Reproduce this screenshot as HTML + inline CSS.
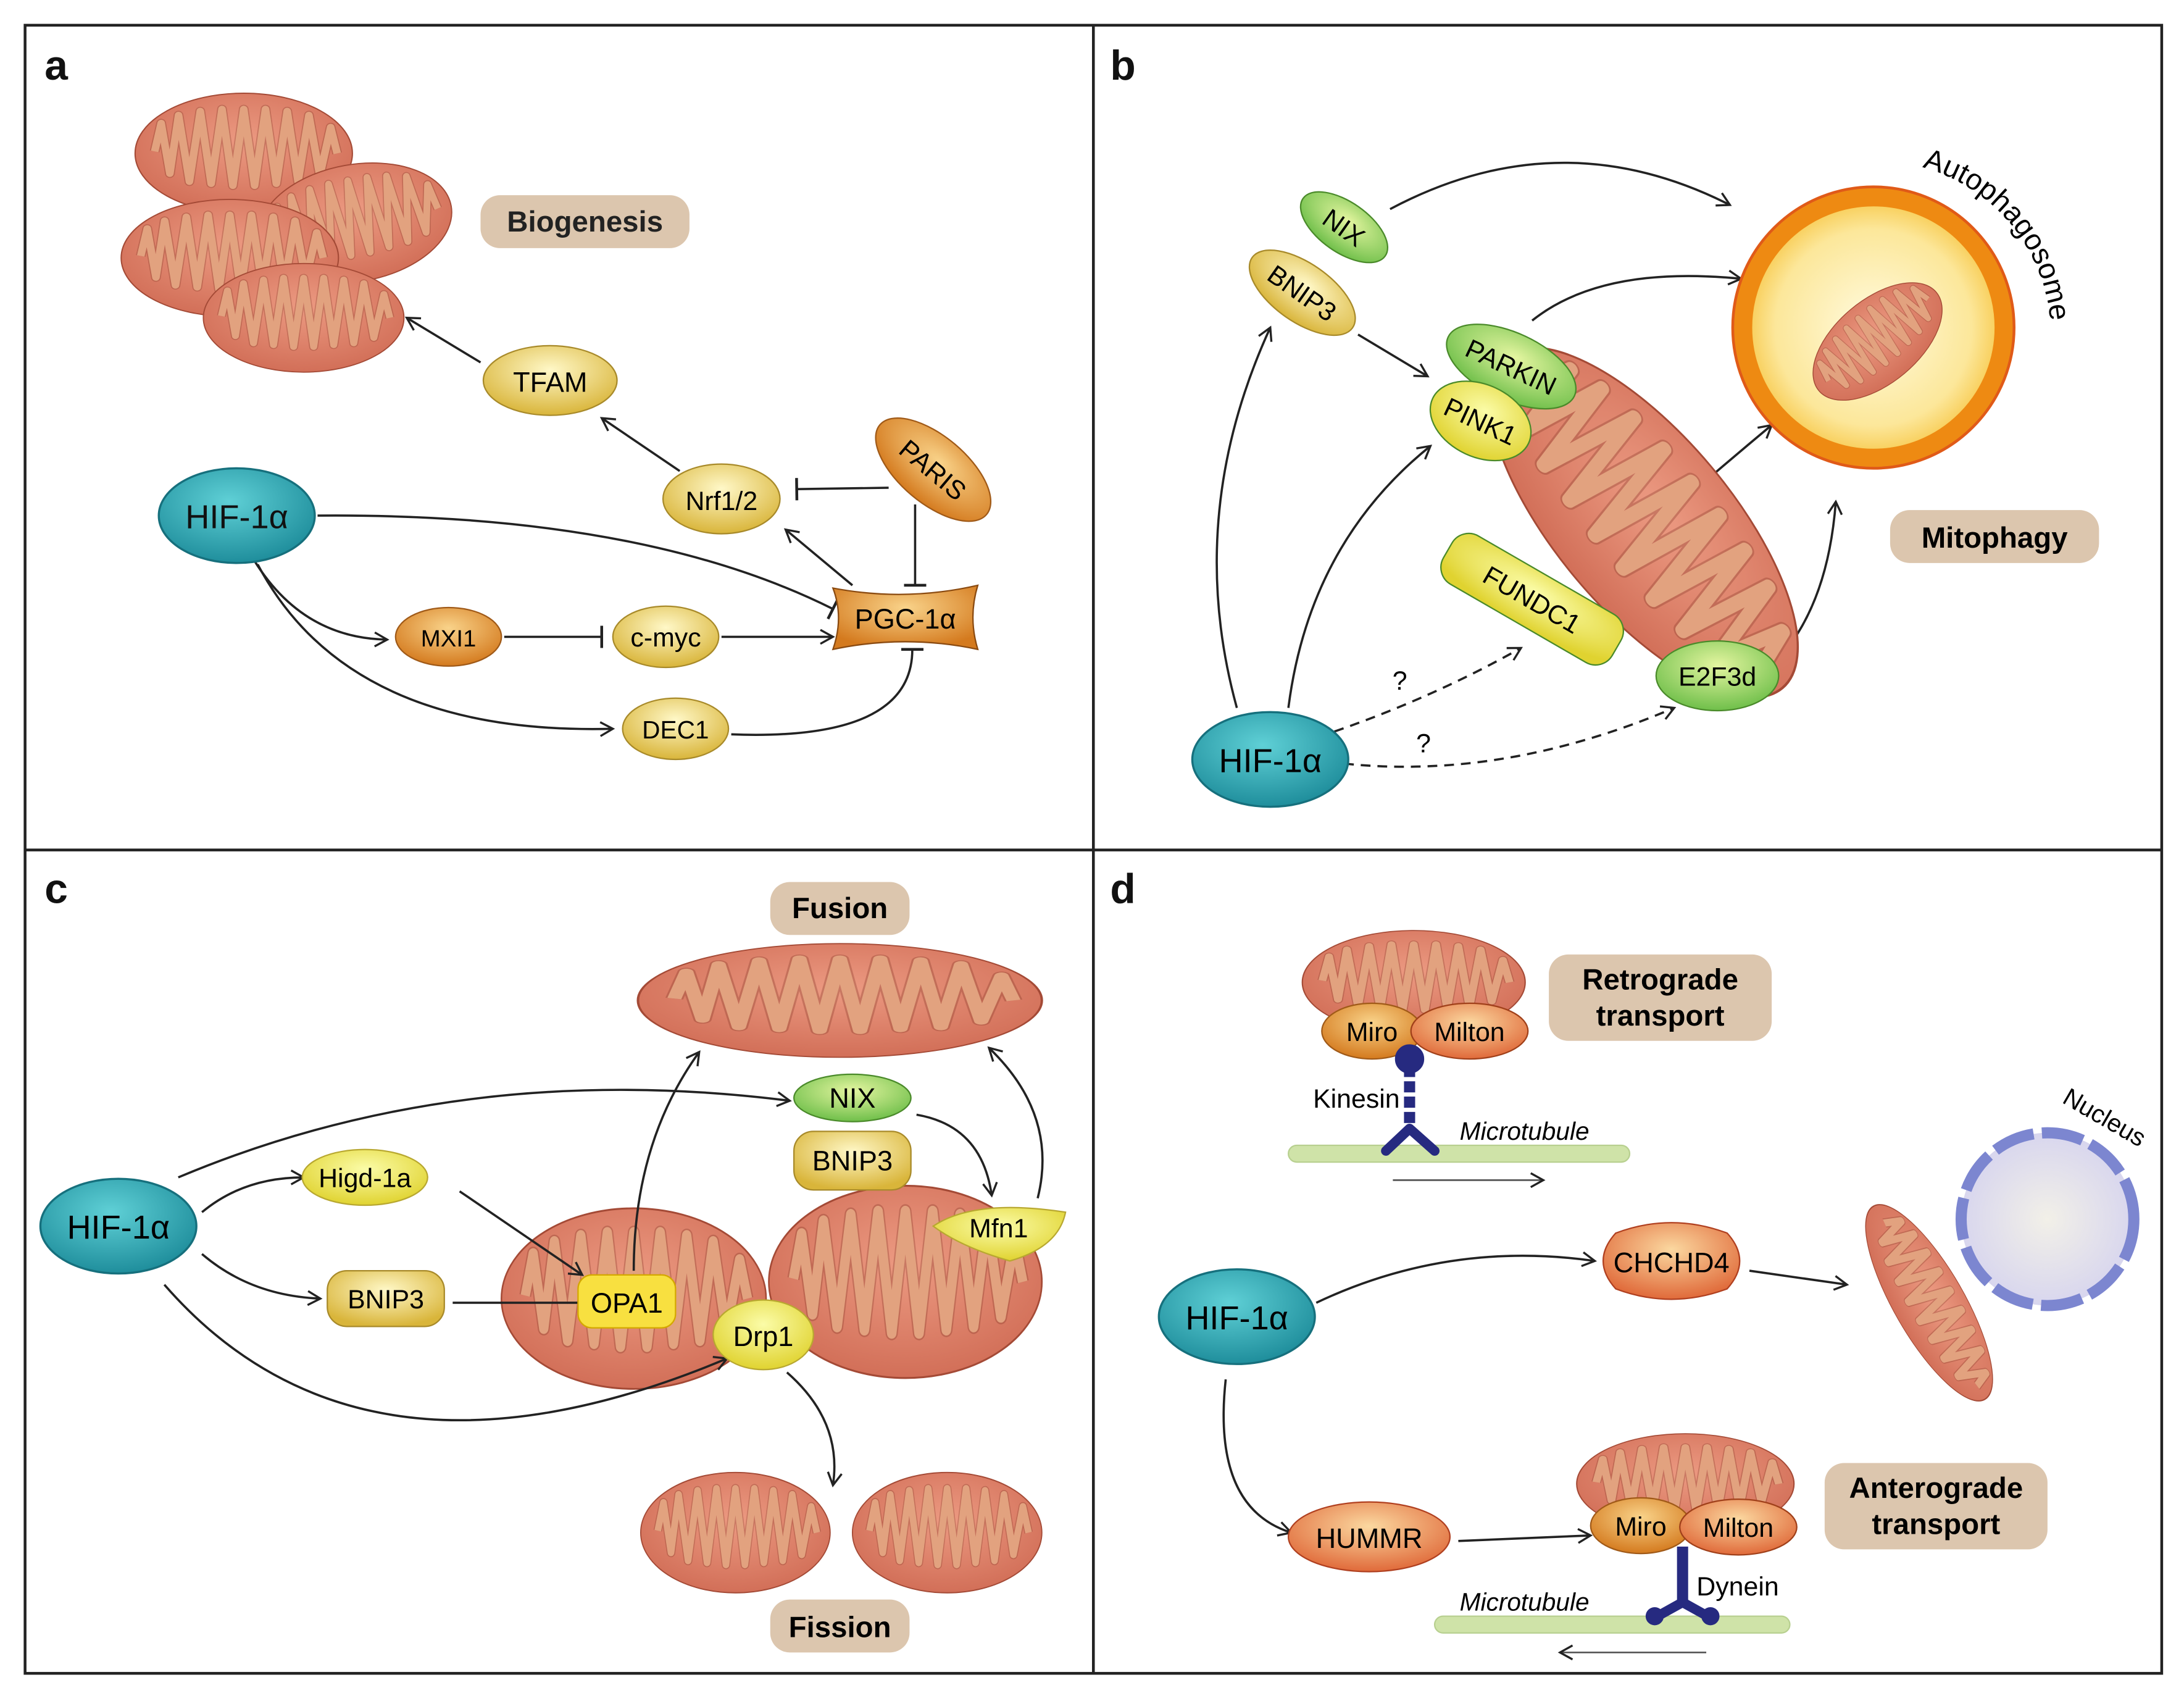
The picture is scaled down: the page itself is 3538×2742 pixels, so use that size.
<!DOCTYPE html>
<html><head><meta charset="utf-8"><style>
html,body{margin:0;padding:0;background:#fff;}
svg{display:block;}
text{font-family:"Liberation Sans",sans-serif;}
</style></head><body>
<svg width="3538" height="2742" viewBox="0 0 1568 1215" xmlns="http://www.w3.org/2000/svg">
<defs>
<marker id="ar" viewBox="0 0 12 12" refX="10" refY="6" markerWidth="12" markerHeight="12" markerUnits="userSpaceOnUse" orient="auto"><path d="M1,1 L10,6 L1,11" fill="none" stroke="#222" stroke-width="1.5"/></marker>
<marker id="inh" viewBox="0 0 4 16" refX="2" refY="8" markerWidth="4" markerHeight="16" markerUnits="userSpaceOnUse" orient="auto"><path d="M2,0 L2,16" stroke="#222" stroke-width="2"/></marker>
<radialGradient id="mg" cx="50%" cy="40%" r="60%"><stop offset="0" stop-color="#ec9a82"/><stop offset="1" stop-color="#d26f58"/></radialGradient>
<radialGradient id="hif" cx="45%" cy="35%" r="65%"><stop offset="0" stop-color="#5fd0d6"/><stop offset="1" stop-color="#1f8e9c"/></radialGradient>
<radialGradient id="yel" cx="50%" cy="35%" r="65%"><stop offset="0" stop-color="#fff8c8"/><stop offset="1" stop-color="#d9b53a"/></radialGradient>
<radialGradient id="org" cx="50%" cy="35%" r="65%"><stop offset="0" stop-color="#f9d38a"/><stop offset="1" stop-color="#d47a1e"/></radialGradient>
<radialGradient id="grn" cx="50%" cy="35%" r="65%"><stop offset="0" stop-color="#e4f5a0"/><stop offset="1" stop-color="#6fbf4a"/></radialGradient>
<radialGradient id="lem" cx="50%" cy="35%" r="65%"><stop offset="0" stop-color="#fbfca8"/><stop offset="1" stop-color="#e0d330"/></radialGradient>
<radialGradient id="red" cx="50%" cy="35%" r="65%"><stop offset="0" stop-color="#fbd8a0"/><stop offset="1" stop-color="#e06a3a"/></radialGradient>
<radialGradient id="aph" cx="50%" cy="50%" r="50%"><stop offset="0" stop-color="#fffbe0"/><stop offset="0.75" stop-color="#fce79a"/><stop offset="1" stop-color="#f7c84a"/></radialGradient>
<radialGradient id="nuc" cx="50%" cy="50%" r="50%"><stop offset="0" stop-color="#f2f0e8"/><stop offset="1" stop-color="#d8d6ee"/></radialGradient>
<g id="mito">
<ellipse rx="100" ry="60" fill="url(#mg)" stroke="#a44a36" stroke-width="1.2"/>
<path d="M-82,-2 L-76,-30 L-68,20 L-60,-38 L-50,28 L-40,-42 L-30,30 L-20,-44 L-10,32 L0,-44 L10,32 L20,-44 L30,30 L40,-42 L50,28 L60,-38 L70,22 L80,-26 L86,0" fill="none" stroke="#8a3b2b" stroke-width="9" stroke-linejoin="round" opacity="0.35"/>
<path d="M-82,-2 L-76,-30 L-68,20 L-60,-38 L-50,28 L-40,-42 L-30,30 L-20,-44 L-10,32 L0,-44 L10,32 L20,-44 L30,30 L40,-42 L50,28 L60,-38 L70,22 L80,-26 L86,0" fill="none" stroke="#e2a27f" stroke-width="7" stroke-linejoin="round"/>
</g>
</defs>
<rect x="0" y="0" width="1568" height="1215" fill="#fff"/>
<rect x="18" y="18" width="1534" height="1183" fill="none" stroke="#222" stroke-width="2"/>
<line x1="785" y1="18" x2="785" y2="1201" stroke="#222" stroke-width="2"/>
<line x1="18" y1="610" x2="1552" y2="610" stroke="#222" stroke-width="2"/>

<g fill="none" stroke="#222" stroke-width="1.6">
<path d="M345,260 L292,228" marker-end="url(#ar)"/>
<path d="M488,338 L432,300" marker-end="url(#ar)"/>
<path d="M638,350 L572,351" marker-end="url(#inh)"/>
<path d="M657,362 L657,420" marker-end="url(#inh)"/>
<path d="M612,420 L564,380" marker-end="url(#ar)"/>
<path d="M228,370 Q460,368 598,437" marker-end="url(#inh)"/>
<path d="M180,398 Q215,458 278,459" marker-end="url(#ar)"/>
<path d="M185,405 Q250,528 440,523" marker-end="url(#ar)"/>
<path d="M362,457 L432,457" marker-end="url(#inh)"/>
<path d="M518,457 L598,457" marker-end="url(#ar)"/>
<path d="M525,527 Q655,532 655,466" marker-end="url(#inh)"/>
<path d="M998,150 Q1120,85 1242,147" marker-end="url(#ar)"/>
<path d="M1100,230 Q1150,190 1250,200" marker-end="url(#ar)"/>
<path d="M975,240 L1025,270" marker-end="url(#ar)"/>
<path d="M1140,420 Q1200,365 1272,305" marker-end="url(#ar)"/>
<path d="M1270,480 Q1312,440 1318,360" marker-end="url(#ar)"/>
<path d="M888,508 Q850,370 912,235" marker-end="url(#ar)"/>
<path d="M925,508 Q940,390 1027,320" marker-end="url(#ar)"/>
<path d="M958,525 Q1030,500 1092,465" marker-end="url(#ar)" stroke-dasharray="7,5"/>
<path d="M965,548 Q1080,560 1202,508" marker-end="url(#ar)" stroke-dasharray="7,5"/>
<path d="M128,845 Q330,760 567,790" marker-end="url(#ar)"/>
<path d="M145,870 Q175,845 218,845" marker-end="url(#ar)"/>
<path d="M145,900 Q180,930 230,932" marker-end="url(#ar)"/>
<path d="M658,800 Q705,808 712,858" marker-end="url(#ar)"/>
<path d="M945,935 Q1040,890 1145,905" marker-end="url(#ar)"/>
<path d="M1256,912 L1326,922" marker-end="url(#ar)"/>
<path d="M880,990 Q870,1082 927,1100" marker-end="url(#ar)"/>
<path d="M1047,1106 L1142,1102" marker-end="url(#ar)"/>
</g>

<g font-size="30" font-weight="bold" fill="#111">
<text x="32" y="57">a</text><text x="797" y="57">b</text><text x="32" y="648">c</text><text x="797" y="648">d</text>
</g>

<use href="#mito" transform="translate(175,110) scale(0.78,0.72)"/>
<use href="#mito" transform="translate(255,160) scale(0.7,0.7) rotate(-10)"/>
<use href="#mito" transform="translate(165,185) scale(0.78,0.7)"/>
<use href="#mito" transform="translate(218,228) scale(0.72,0.65)"/>
<rect x="345" y="140" width="150" height="38" rx="14" fill="#dcc6ae"/>
<text x="420" y="166" font-size="21" font-weight="bold" text-anchor="middle" fill="#222">Biogenesis</text>
<ellipse cx="395" cy="273" rx="48" ry="25" fill="url(#yel)" stroke="#a88a2a"/>
<text x="395" y="281" font-size="20" text-anchor="middle">TFAM</text>
<ellipse cx="518" cy="358" rx="42" ry="25" fill="url(#yel)" stroke="#a88a2a"/>
<text x="518" y="366" font-size="19" text-anchor="middle">Nrf1/2</text>
<ellipse cx="670" cy="337" rx="50" ry="24" transform="rotate(40 670 337)" fill="url(#org)" stroke="#a05a18"/>
<text x="670" y="344" font-size="19" text-anchor="middle" transform="rotate(40 670 337)">PARIS</text>
<path d="M598,422 Q650,432 702,420 Q695,443 702,466 Q650,455 598,466 Q606,443 598,422Z" fill="url(#org)" stroke="#8a4a10"/>
<text x="650" y="451" font-size="20" text-anchor="middle">PGC-1α</text>
<ellipse cx="322" cy="457" rx="38" ry="21" fill="url(#org)" stroke="#a05a18"/>
<text x="322" y="464" font-size="17" text-anchor="middle">MXI1</text>
<ellipse cx="478" cy="457" rx="38" ry="22" fill="url(#yel)" stroke="#a88a2a"/>
<text x="478" y="464" font-size="19" text-anchor="middle">c-myc</text>
<ellipse cx="485" cy="523" rx="38" ry="22" fill="url(#yel)" stroke="#a88a2a"/>
<text x="485" y="530" font-size="18" text-anchor="middle">DEC1</text>
<ellipse cx="170" cy="370" rx="56" ry="34" fill="url(#hif)" stroke="#16707d" stroke-width="1.5"/>
<text x="170" y="379" font-size="24" text-anchor="middle" fill="#111">HIF-1α</text>

<circle cx="1345" cy="235" r="94" fill="url(#aph)" stroke="#ee8a12" stroke-width="14"/>
<circle cx="1345" cy="235" r="101" fill="none" stroke="#e05a18" stroke-width="2"/>
<use href="#mito" transform="translate(1348,245) rotate(-40) scale(0.55,0.5)"/>
<path id="arc" d="M1380,120 A125,125 0 0 1 1470,265" fill="none"/>
<text font-size="21"><textPath href="#arc">Autophagosome</textPath></text>
<use href="#mito" transform="translate(1180,375) rotate(50) scale(1.55,1.05)"/>
<ellipse cx="965" cy="163" rx="36" ry="18" transform="rotate(35 965 163)" fill="url(#grn)" stroke="#4a8a2a"/>
<text x="965" y="170" font-size="19" text-anchor="middle" transform="rotate(35 965 163)">NIX</text>
<ellipse cx="935" cy="210" rx="44" ry="21" transform="rotate(35 935 210)" fill="url(#yel)" stroke="#a88a2a"/>
<text x="935" y="217" font-size="19" text-anchor="middle" transform="rotate(35 935 210)">BNIP3</text>
<ellipse cx="1085" cy="263" rx="50" ry="24" transform="rotate(25 1085 263)" fill="url(#grn)" stroke="#4a8a2a"/>
<text x="1085" y="270" font-size="19" text-anchor="middle" transform="rotate(25 1085 263)">PARKIN</text>
<ellipse cx="1063" cy="302" rx="38" ry="26" transform="rotate(25 1063 302)" fill="url(#lem)" stroke="#4a8a2a"/>
<text x="1063" y="309" font-size="19" text-anchor="middle" transform="rotate(25 1063 302)">PINK1</text>
<rect x="1030" y="410" width="140" height="40" rx="14" transform="rotate(30 1100 430)" fill="url(#lem)" stroke="#4a8a2a"/>
<text x="1100" y="437" font-size="19" text-anchor="middle" transform="rotate(30 1100 430)">FUNDC1</text>
<ellipse cx="1233" cy="485" rx="44" ry="25" fill="url(#grn)" stroke="#4a8a2a"/>
<text x="1233" y="492" font-size="19" text-anchor="middle">E2F3d</text>
<rect x="1357" y="366" width="150" height="38" rx="14" fill="#dcc6ae"/>
<text x="1432" y="393" font-size="21" font-weight="bold" text-anchor="middle">Mitophagy</text>
<text x="1005" y="495" font-size="19" text-anchor="middle">?</text>
<text x="1022" y="540" font-size="19" text-anchor="middle">?</text>
<ellipse cx="912" cy="545" rx="56" ry="34" fill="url(#hif)" stroke="#16707d" stroke-width="1.5"/>
<text x="912" y="554" font-size="24" text-anchor="middle">HIF-1α</text>

<rect x="553" y="633" width="100" height="38" rx="14" fill="#dcc6ae"/>
<text x="603" y="659" font-size="21" font-weight="bold" text-anchor="middle">Fusion</text>
<use href="#mito" transform="translate(603,718) scale(1.45,0.68)"/>
<use href="#mito" transform="translate(455,932) scale(0.95,1.08)"/>
<use href="#mito" transform="translate(650,920) scale(0.98,1.15)"/>
<g fill="none" stroke="#222" stroke-width="1.6">
<path d="M118,922 Q260,1085 522,975" marker-end="url(#ar)"/>
<path d="M330,855 L418,915" marker-end="url(#ar)"/>
<path d="M325,935 L418,935" marker-end="url(#inh)"/>
<path d="M455,912 Q455,820 502,755" marker-end="url(#ar)"/>
<path d="M745,860 Q760,800 710,752" marker-end="url(#ar)"/>
<path d="M565,985 Q605,1020 598,1066" marker-end="url(#ar)"/>
</g>
<ellipse cx="612" cy="788" rx="42" ry="17" fill="url(#grn)" stroke="#4a8a2a"/>
<text x="612" y="795" font-size="20" text-anchor="middle">NIX</text>
<rect x="570" y="812" width="84" height="42" rx="14" fill="url(#yel)" stroke="#a88a2a"/>
<text x="612" y="840" font-size="20" text-anchor="middle">BNIP3</text>
<path d="M670,880 Q700,860 765,870 Q760,895 725,905 Q690,895 670,880Z" fill="url(#lem)" stroke="#b8a830"/>
<text x="717" y="888" font-size="19" text-anchor="middle">Mfn1</text>
<rect x="415" y="915" width="70" height="38" rx="10" fill="#f8e040" stroke="#d4a800"/>
<text x="450" y="942" font-size="20" text-anchor="middle">OPA1</text>
<ellipse cx="548" cy="958" rx="36" ry="25" fill="url(#lem)" stroke="#b8a830"/>
<text x="548" y="966" font-size="20" text-anchor="middle">Drp1</text>
<ellipse cx="262" cy="845" rx="45" ry="20" fill="url(#lem)" stroke="#b8a830"/>
<text x="262" y="852" font-size="19" text-anchor="middle">Higd-1a</text>
<rect x="235" y="912" width="84" height="40" rx="14" fill="url(#yel)" stroke="#a88a2a"/>
<text x="277" y="939" font-size="19" text-anchor="middle">BNIP3</text>
<use href="#mito" transform="translate(528,1100) scale(0.68,0.72)"/>
<use href="#mito" transform="translate(680,1100) scale(0.68,0.72)"/>
<rect x="553" y="1148" width="100" height="38" rx="14" fill="#dcc6ae"/>
<text x="603" y="1175" font-size="21" font-weight="bold" text-anchor="middle">Fission</text>
<ellipse cx="85" cy="880" rx="56" ry="34" fill="url(#hif)" stroke="#16707d" stroke-width="1.5"/>
<text x="85" y="889" font-size="24" text-anchor="middle">HIF-1α</text>

<use href="#mito" transform="translate(1015,705) scale(0.8,0.62)"/>
<ellipse cx="985" cy="740" rx="36" ry="20" fill="url(#org)" stroke="#a05a18"/>
<text x="985" y="747" font-size="19" text-anchor="middle">Miro</text>
<ellipse cx="1055" cy="740" rx="42" ry="20" fill="url(#red)" stroke="#a0401a"/>
<text x="1055" y="747" font-size="19" text-anchor="middle">Milton</text>
<rect x="925" y="822" width="245" height="12" rx="6" fill="#cfe3a8" stroke="#b8d090"/>
<g fill="#262a80" stroke="#262a80">
<circle cx="1012" cy="760" r="10"/>
<path d="M1012,765 L1012,812" stroke-width="8" fill="none" stroke-dasharray="8,3"/>
<path d="M1012,810 L995,826 M1012,810 L1030,826" stroke-width="7" fill="none" stroke-linecap="round"/>
</g>
<text x="1005" y="795" font-size="19" text-anchor="end">Kinesin</text>
<text x="1048" y="818" font-size="18" font-style="italic">Microtubule</text>
<path d="M1000,847 L1108,847" stroke="#555" stroke-width="1.2" marker-end="url(#ar)"/>
<rect x="1112" y="685" width="160" height="62" rx="14" fill="#dcc6ae"/>
<text x="1192" y="710" font-size="21" font-weight="bold" text-anchor="middle">Retrograde</text>
<text x="1192" y="736" font-size="21" font-weight="bold" text-anchor="middle">transport</text>
<path d="M1160,885 Q1200,870 1240,885 Q1258,905 1240,925 Q1200,940 1160,925 Q1142,905 1160,885Z" fill="url(#red)" stroke="#b04020"/>
<text x="1200" y="913" font-size="20" text-anchor="middle">CHCHD4</text>
<circle cx="1470" cy="875" r="62" fill="url(#nuc)" stroke="#7c86d0" stroke-width="8" stroke-dasharray="30,6"/>
<text x="1468" y="805" font-size="18" transform="rotate(30 1500 820)">Nucleus</text>
<use href="#mito" transform="translate(1385,935) rotate(60) scale(0.8,0.42)"/>
<ellipse cx="983" cy="1103" rx="58" ry="25" fill="url(#red)" stroke="#b04020"/>
<text x="983" y="1111" font-size="20" text-anchor="middle">HUMMR</text>
<use href="#mito" transform="translate(1210,1065) scale(0.78,0.6)"/>
<ellipse cx="1178" cy="1095" rx="36" ry="20" fill="url(#org)" stroke="#a05a18"/>
<text x="1178" y="1102" font-size="19" text-anchor="middle">Miro</text>
<ellipse cx="1248" cy="1096" rx="42" ry="20" fill="url(#red)" stroke="#a0401a"/>
<text x="1248" y="1103" font-size="19" text-anchor="middle">Milton</text>
<rect x="1030" y="1160" width="255" height="12" rx="6" fill="#cfe3a8" stroke="#b8d090"/>
<g fill="#262a80" stroke="#262a80">
<path d="M1208,1110 L1208,1150" stroke-width="8" fill="none"/>
<path d="M1208,1150 L1190,1160 M1208,1150 L1226,1160" stroke-width="7" fill="none" stroke-linecap="round"/>
<circle cx="1188" cy="1160" r="6"/><circle cx="1228" cy="1160" r="6"/>
</g>
<text x="1218" y="1145" font-size="19">Dynein</text>
<text x="1048" y="1156" font-size="18" font-style="italic">Microtubule</text>
<path d="M1225,1186 L1120,1186" stroke="#555" stroke-width="1.2" marker-end="url(#ar)"/>
<rect x="1310" y="1050" width="160" height="62" rx="14" fill="#dcc6ae"/>
<text x="1390" y="1075" font-size="21" font-weight="bold" text-anchor="middle">Anterograde</text>
<text x="1390" y="1101" font-size="21" font-weight="bold" text-anchor="middle">transport</text>
<ellipse cx="888" cy="945" rx="56" ry="34" fill="url(#hif)" stroke="#16707d" stroke-width="1.5"/>
<text x="888" y="954" font-size="24" text-anchor="middle">HIF-1α</text>
</svg>
</body></html>
